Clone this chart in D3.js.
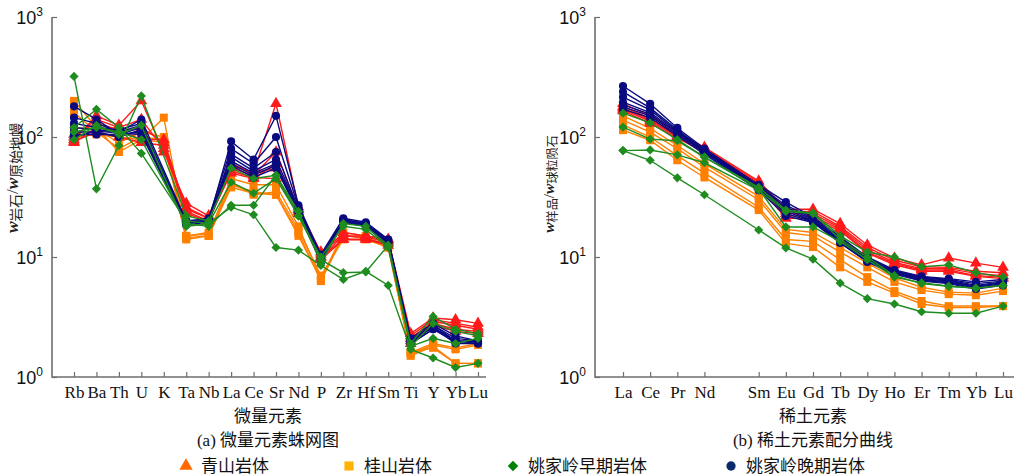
<!DOCTYPE html>
<html>
<head>
<meta charset="utf-8">
<script src="https://cdn.jsdelivr.net/npm/d3@7"></script>
<style>
  body { margin: 0; background: #fff; }
  svg { font-family: "Liberation Serif", "Times New Roman", "Noto Sans CJK SC", serif; }
</style>
</head>
<body>
<svg width="1016" height="475"></svg>
<script>
// trace elements (primitive mantle normalised)
var spiderElements = ['Rb','Ba','Th','U','K','Ta','Nb','La','Ce','Sr','Nd','P','Zr','Hf','Sm','Ti','Y','Yb','Lu'];
var reeElements = ['La','Ce','Pr','Nd','Pm','Sm','Eu','Gd','Tb','Dy','Ho','Er','Tm','Yb','Lu'];
var reeTicks = ['La','Ce','Pr','Nd','Sm','Eu','Gd','Tb','Dy','Ho','Er','Tm','Yb','Lu'];
var yTicks = [1, 10, 100, 1000];

var groupNames = ['青山岩体', '桂山岩体', '姚家岭早期岩体', '姚家岭晚期岩体'];

var qingshanSpider = [
  [95, 150, 125, 200, 75, 28, 22, 60, 50, 190, 26, 10.5, 16, 15, 14, 2.3, 3.1, 3.0, 2.8],
  [100, 140, 120, 140, 80, 26, 21, 55, 48, 75, 25, 10, 15, 14.5, 13.5, 2.2, 3.0, 2.8, 2.6],
  [90, 120, 110, 120, 90, 25, 21, 50, 45, 60, 24, 10, 14, 14, 13, 2.1, 2.9, 2.7, 2.5],
  [105, 130, 115, 95, 95, 24, 20, 58, 50, 55, 25, 11, 15, 15, 14, 2.0, 2.8, 2.5, 2.4],
  [92, 110, 100, 90, 85, 23, 20, 52, 46, 45, 23, 9.5, 14, 14, 12.5, 1.9, 2.7, 2.4, 2.3]
];
var guishanSpider = [
  [200, 120, 75, 95, 145, 15, 15.5, 45, 40, 40, 18, 6.5, 16, 15, 13, 1.55, 1.85, 1.7, 1.85],
  [160, 110, 80, 100, 95, 14.5, 15, 40, 35, 33, 16, 6.3, 15, 14.5, 12.5, 1.6, 1.9, 1.75, 1.9],
  [120, 115, 90, 110, 100, 15, 16, 42, 33, 35, 17, 7, 14, 14, 12, 1.5, 1.8, 1.3, 1.3],
  [100, 105, 100, 95, 90, 14, 15, 38, 34, 33, 15, 6.5, 15, 14.5, 12, 1.6, 1.75, 1.3, 1.3]
];
var yjlEarlySpider = [
  [320, 37, 85, 220, null, 22, 20, 55, 45, 48, 24, 9, 19, 18, 12.5, 1.9, 3.2, 2.5, 2.3],
  [120, 170, 120, 73, null, 20, 19, 42, 34, 45, 22, 10, 18, 17, 12, 1.8, 2.8, 2.4, 2.2],
  [110, 120, 110, 95, null, 19, 18, 27, 27, 48, 22, 9.5, 7.4, 7.5, 12.5, 1.8, 2.1, 1.9, 2.1],
  [95, 125, 105, 125, null, 18, 19, 26, 22.5, 12, 11.4, 8.5, 6.5, 7.6, 5.8, 1.7, 1.44, 1.2, 1.3]
];
var yjlLateSpider = [
  [180, 140, 105, 120, null, 20, 20, 92, 65, 150, 27, 10.5, 21, 19.5, 14, 2.1, 2.8, 2.2, 2.0],
  [145, 130, 110, 140, null, 20, 21, 80, 60, 100, 26, 10, 20.5, 19, 14, 2.05, 2.7, 2.1, 2.0],
  [130, 120, 115, 130, null, 19, 20, 72, 55, 75, 25, 9.5, 20, 18.5, 13.5, 2.0, 2.6, 2.0, 1.95],
  [120, 115, 110, 125, null, 19.5, 20, 68, 52, 65, 25, 9.8, 20.5, 19, 13.5, 2.0, 2.7, 2.0, 1.9],
  [110, 110, 100, 115, null, 19, 20.5, 63, 50, 60, 24, 9.5, 20, 18.5, 13, 1.95, 2.6, 1.9, 1.9],
  [105, 105, 105, 110, null, 18.5, 19.5, 60, 48, 58, 24, 9.2, 19.5, 18, 13, 1.9, 2.5, 1.95, 2.0],
  [100, 112, 108, 105, null, 19, 20, 58, 46, 55, 23.5, 9, 19.5, 18, 12.5, 1.9, 2.5, 2.0, 2.0]
];

// REE (chondrite normalised), Pm not analysed
var qingshanRee = [
  [190, 150, 110, 82, null, 43, 25, 25, 19, 12.6, 9.8, 8.6, 9.8, 8.9, 8.2],
  [180, 142, 105, 80, null, 42, 24, 24, 18, 12, 9.4, 8.3, 8.2, 7.6, 7.4],
  [175, 138, 102, 78, null, 41, 23, 23, 17.5, 11.5, 9, 8, 8, 7.3, 7],
  [170, 135, 100, 76, null, 40, 22, 22, 17, 11, 8.8, 7.8, 7.8, 7, 6.8],
  [165, 130, 98, 75, null, 39, 21, 21, 16.5, 10.8, 8.6, 7.6, 7.6, 6.9, 6.6]
];
var guishanRee = [
  [150, 118, 85, 60, null, 32, 17, 16, 12, 8.9, 6.7, 5.6, 5.1, 5.0, 5.5],
  [138, 110, 80, 56, null, 30, 16, 15, 11, 8.2, 6.2, 5.3, 4.9, 4.8, 5.2],
  [126, 100, 70, 50, null, 26, 14, 13.5, 9.5, 6.8, 5.2, 4.3, 3.9, 3.9, 3.9],
  [114, 94, 64, 46, null, 24.6, 13, 12.1, 8.2, 6.2, 5, 4.06, 3.8, 3.8, 3.9]
];
var yjlEarlyRee = [
  [158, 131, 95, 68, null, 38, 24.6, 23.3, 15, 11, 10, 8.3, 8.6, 7.4, 6.8],
  [121, 96, 93, 68, null, 37, 17.8, 17.8, 13.5, 9.5, 6.8, 6.1, 5.7, 5.5, 5.8],
  [77, 78, 71, 61, null, 36, 24, 23, 14, 10, 7, 6, 5.7, 5.5, 5.8],
  [77, 64, 45.7, 33, null, 16.8, 11.9, 9.6, 6.06, 4.5, 4.06, 3.5, 3.4, 3.4, 3.9]
];
var yjlLateRee = [
  [266, 189, 119, 80, null, 40, 28.7, 21.5, 14.7, 10, 7.8, 6.9, 6.6, 6.2, 6.5],
  [238, 175, 115, 78, null, 39, 27, 21, 14.3, 9.8, 7.7, 6.8, 6.5, 6.0, 6.3],
  [215, 168, 112, 77, null, 38.5, 26, 20.5, 14, 9.6, 7.6, 6.7, 6.4, 5.8, 6.2],
  [195, 160, 110, 76, null, 38, 25, 20, 13.8, 9.5, 7.5, 6.6, 6.3, 5.7, 6.1],
  [185, 155, 108, 75, null, 37.5, 24, 19.8, 13.5, 9.3, 7.4, 6.5, 6.2, 5.6, 6.0],
  [178, 150, 105, 74, null, 37, 23, 19.6, 13.2, 9.2, 7.3, 6.4, 6.1, 5.5, 5.9],
  [170, 145, 102, 72, null, 36, 22, 19.4, 13.1, 9.1, 7.2, 6.3, 6.0, 5.4, 5.8]
];

var svg = d3.select('svg');
var plotTop = 17, plotBottom = 377;
var axisColor = '#6e6e6e';
var lineColors = ['#ff1a1a', '#ff8000', '#1e8c1e', '#0a0a80'];
var legendColors = ['#ff6a00', '#ffb200', '#008200', '#0a2a6a'];
var symbolTypes = [d3.symbolTriangle, d3.symbolSquare, d3.symbolSquare, d3.symbolCircle];
var symbolRotate = [0, 0, 45, 0];
var symbolSizes = [60, 64, 42, 52];
var drawOrder = [1, 0, 3, 2];

var yScale = d3.scaleLog().domain([1, 1000]).range([plotBottom, plotTop]);

function drawPanel(opts) {
  var g = svg.append('g');
  var x = d3.scalePoint().domain(opts.elements).range(opts.range);

  // series
  drawOrder.forEach(function(gi) {
    opts.groups[gi].forEach(function(sample) {
      var pts = sample.map(function(v, i) { return {k: opts.elements[i], v: v}; })
        .filter(function(d) { return d.v != null; });
      g.append('path')
        .datum(pts)
        .attr('fill', 'none')
        .attr('stroke', lineColors[gi])
        .attr('stroke-width', 1.4)
        .attr('d', d3.line().x(function(d) { return x(d.k); }).y(function(d) { return yScale(d.v); }));
      g.selectAll(null)
        .data(pts)
        .enter()
        .append('path')
        .attr('transform', function(d) {
          return 'translate(' + x(d.k) + ',' + yScale(d.v) + ') rotate(' + symbolRotate[gi] + ')';
        })
        .attr('d', d3.symbol().type(symbolTypes[gi]).size(symbolSizes[gi]))
        .attr('fill', lineColors[gi]);
    });
  });

  // axes
  var xAxis = d3.axisBottom(x).tickValues(opts.ticks).tickSize(-5).tickSizeOuter(0).tickPadding(9);
  var gx = g.append('g').attr('transform', 'translate(0,' + plotBottom + ')').call(xAxis);
  gx.select('.domain').remove();
  gx.selectAll('.tick line').attr('stroke', axisColor).attr('stroke-width', 1.2);
  gx.selectAll('.tick text').attr('font-size', 17).attr('fill', '#111')
    .attr('font-family', '"Liberation Serif", serif');

  var yAxis = d3.axisLeft(yScale).tickValues(yTicks).tickSize(-5).tickSizeOuter(0).tickFormat('');
  var gy = g.append('g').attr('transform', 'translate(' + opts.x0 + ',0)').call(yAxis);
  gy.select('.domain').remove();
  gy.selectAll('.tick line').attr('stroke', axisColor).attr('stroke-width', 1.2);
  gy.selectAll('.tick').each(function(d) {
    var t = d3.select(this).append('text')
      .attr('x', -9).attr('y', 6)
      .attr('text-anchor', 'end')
      .attr('fill', '#111')
      .attr('font-size', 18);
    t.append('tspan').text('10');
    t.append('tspan').attr('font-size', 12).attr('dy', -8).text(Math.round(Math.log10(d)));
  });

  g.append('path')
    .attr('d', 'M' + opts.x0 + ',' + plotTop + 'V' + plotBottom + 'H' + opts.x1)
    .attr('fill', 'none')
    .attr('stroke', axisColor)
    .attr('stroke-width', 1.6);

  // titles
  g.append('text')
    .attr('x', opts.cx).attr('y', 422)
    .attr('text-anchor', 'middle').attr('font-size', 17).attr('fill', '#111')
    .text(opts.xTitle);
  g.append('text')
    .attr('x', opts.cx).attr('y', 446)
    .attr('text-anchor', 'middle').attr('font-size', 17).attr('fill', '#111')
    .text(opts.caption);

  var yl = g.append('text')
    .attr('transform', 'translate(' + opts.ylx + ',' + opts.yly + ') rotate(-90)')
    .attr('text-anchor', 'middle').attr('font-size', opts.ylSize).attr('fill', '#222');
  yl.append('tspan').attr('font-style', 'italic').attr('font-weight', 'bold').text('w');
  yl.append('tspan').attr('font-size', opts.ylSize * 0.78).attr('dy', 3).text(opts.ylSub1);
  yl.append('tspan').attr('dy', -3).text('/');
  yl.append('tspan').attr('font-style', 'italic').attr('font-weight', 'bold').text('w');
  yl.append('tspan').attr('font-size', opts.ylSize * 0.78).attr('dy', 3).text(opts.ylSub2);
}

drawPanel({
  elements: spiderElements, ticks: spiderElements, range: [74, 478],
  groups: [qingshanSpider, guishanSpider, yjlEarlySpider, yjlLateSpider],
  x0: 52, x1: 486, cx: 268,
  xTitle: '微量元素', caption: '(a) 微量元素蛛网图',
  ylx: 18, yly: 178, ylSize: 17.5, ylSub1: '岩石', ylSub2: '原始地幔'
});

drawPanel({
  elements: reeElements, ticks: reeTicks, range: [623, 1003],
  groups: [qingshanRee, guishanRee, yjlEarlyRee, yjlLateRee],
  x0: 595, x1: 1014, cx: 813,
  xTitle: '稀土元素', caption: '(b) 稀土元素配分曲线',
  ylx: 554, yly: 184, ylSize: 15.5, ylSub1: '样品', ylSub2: '球粒陨石'
});

// legend
var legendX = [186, 349, 513, 731];
var legend = svg.append('g');
groupNames.forEach(function(name, i) {
  legend.append('path')
    .attr('transform', 'translate(' + legendX[i] + ',466) rotate(' + symbolRotate[i] + ')')
    .attr('d', d3.symbol().type(symbolTypes[i]).size(symbolSizes[i] * 1.3))
    .attr('fill', legendColors[i]);
  legend.append('text')
    .attr('x', legendX[i] + 15).attr('y', 472)
    .attr('font-size', 17).attr('fill', '#111')
    .text(name);
});
</script>
</body>
</html>
